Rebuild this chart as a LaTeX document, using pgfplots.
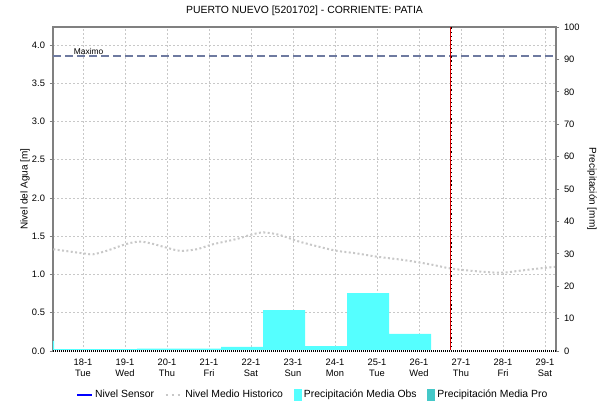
\documentclass[border=0pt]{standalone}
\usepackage{fontspec}
\setmainfont{Liberation Sans}
\usepackage{pgfplots}
\pgfplotsset{compat=1.18}
\definecolor{precobs}{RGB}{85,255,255}
\definecolor{precpro}{RGB}{68,200,200}
\definecolor{maxline}{RGB}{110,122,160}
\definecolor{histline}{RGB}{200,200,200}
\definecolor{frameline}{RGB}{128,128,128}
\definecolor{sensor}{RGB}{0,0,255}

\begin{document}
\begin{tikzpicture}
% page = 603 x 412 px, 1 px = 0.75pt; plot area 503 x 324 px
\path[use as bounding box] (-39.75pt,-45.75pt) rectangle (412.5pt,263.25pt);

\pgfplotsset{
  common/.style={
    at={(0,0)}, anchor=south west,
    width=377.25pt, height=243pt, scale only axis,
    xmin=17.286, xmax=29.262,
    tick align=outside,
    major tick length=2.5pt,
    tick style={frameline, line width=0.6pt},
    axis line style={frameline, line width=0.8pt},
    ticklabel style={font=\fontsize{7}{8}\selectfont},
    label style={font=\fontsize{7.5}{9}\selectfont},
    /pgf/number format/assume math mode=true,
  },
}

\begin{axis}[common,
  ymin=0, ymax=4.235,
  xtick={18,...,29},
  xticklabels={18-1\\Tue,19-1\\Wed,20-1\\Thu,21-1\\Fri,22-1\\Sat,23-1\\Sun,
    24-1\\Mon,25-1\\Tue,26-1\\Wed,27-1\\Thu,28-1\\Fri,29-1\\Sat},
  xticklabel style={align=center, font=\fontsize{7}{8.5}\selectfont},
  x tick style={draw=none},
  ytick={0,0.5,...,4},
  yticklabel style={/pgf/number format/.cd, fixed, fixed zerofill, precision=1},
  ytick pos=left,
  grid=major,
  grid style={histline, line width=0.6pt, dash pattern=on 1.5pt off 1.5pt},
  ylabel={Nivel del Agua [m]},
  ylabel style={at={(axis description cs:-0.0557,0.5)}, anchor=center},
  title={PUERTO NUEVO [5201702] - CORRIENTE: PATIA},
  title style={font=\fontsize{7.8}{9}\selectfont, yshift=-1pt},
]
% historic mean level
\addplot[histline, line width=1.5pt, dash pattern=on 1.5pt off 1.8pt, smooth] coordinates {
  (17.293,1.330) (18.007,1.276) (18.238,1.264) (18.564,1.310) (19.040,1.400)
  (19.357,1.430) (19.667,1.400) (19.993,1.350) (20.310,1.310) (20.707,1.330)
  (21.095,1.395) (21.660,1.464) (21.976,1.516) (22.293,1.550) (22.690,1.516)
  (23.088,1.440) (23.564,1.370) (24.040,1.310) (24.517,1.276) (24.993,1.233)
  (25.626,1.190) (26.262,1.133) (26.738,1.080) (27.214,1.050) (27.929,1.023)
  (28.405,1.050) (28.881,1.080) (29.238,1.100)
};
% maximum level
\addplot[maxline, line width=1.5pt, dash pattern=on 6pt off 3pt] coordinates {
  (17.286,3.856) (29.262,3.856)
};
\node[anchor=south west, inner sep=0.6pt, font=\fontsize{6.3}{7}\selectfont]
  at (axis cs:17.76,3.856) {Maximo};
% current time
\addplot[red!85!black, line width=0.7pt] coordinates {(26.738,0) (26.738,4.235)};
\addplot[black, line width=0.9pt, dash pattern=on 0.9pt off 2.2pt] coordinates {(26.765,0) (26.765,4.235)};
\end{axis}

\begin{axis}[common,
  ymin=0, ymax=100,
  axis x line=none,
  axis y line*=right,
  ytick={0,10,...,100},
  ylabel={Precipitación [mm]},
  ylabel style={at={(axis description cs:1.0716,0.5)}, anchor=center, rotate=180},
  legend style={at={(axis description cs:0.046,-0.136)}, anchor=west,
    draw=none, fill=none, inner sep=0pt,
    font=\fontsize{7.8}{9}\selectfont, legend columns=4,
    /tikz/every even column/.append style={column sep=6pt},
    /tikz/every odd column/.append style={column sep=0pt}},
  legend cell align=left,
]
\addlegendimage{legend image code/.code={\draw[draw=sensor, line width=1pt] (0pt,0pt) -- (11pt,0pt);}}
\addlegendentry{Nivel Sensor}
\addlegendimage{legend image code/.code={\draw[histline, line width=1.5pt, dash pattern=on 2pt off 2.5pt] (0pt,0pt) -- (12pt,0pt);}}
\addlegendentry{Nivel Medio Historico}
\addlegendimage{legend image code/.code={\fill[precobs] (0pt,-4pt) rectangle (5.25pt,4.25pt);}}
\addlegendentry{Precipitación Media Obs}
\addlegendimage{legend image code/.code={\fill[precpro] (0pt,-4pt) rectangle (5.25pt,4.25pt);}}
\addlegendentry{Precipitación Media Pro}
% observed precipitation (7:00 to 7:00 intervals)
\addplot[ybar interval, fill=precobs, draw=none, forget plot] coordinates {
  (17.262,3.1) (17.310,0.6) (19.286,0.7) (21.286,1.3) (22.286,12.65)
  (23.286,1.5) (24.286,17.9) (25.286,5.25) (26.286,0)
};
\draw[white, line width=1.5pt] (rel axis cs:0,0) -- (rel axis cs:1,0);
\draw[black, line width=1.5pt, dash pattern=on 0.75pt off 0.75pt] (rel axis cs:0,0) -- (rel axis cs:1,0);
\end{axis}
\end{tikzpicture}
\end{document}
